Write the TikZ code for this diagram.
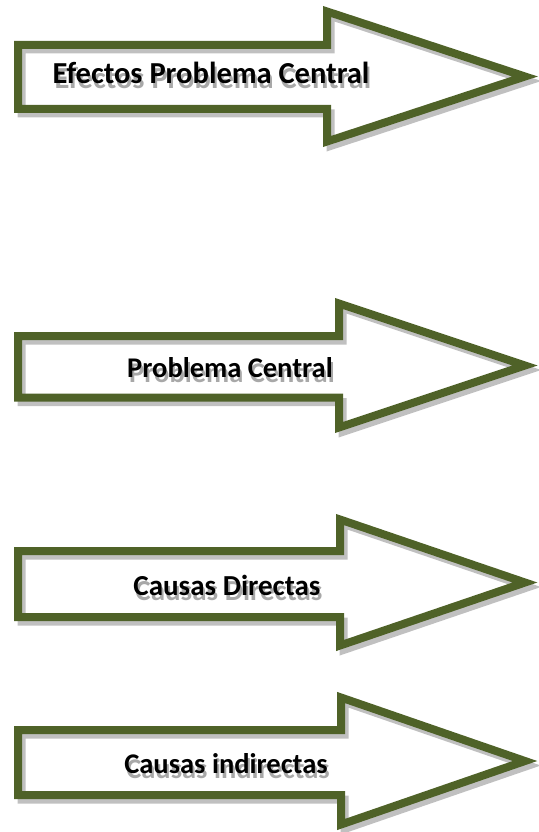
\documentclass[tikz,border=0pt]{standalone}
\usepackage{fontspec}
\setmainfont{Carlito}
\usepackage{xcolor}
\usepackage{tikz}

\definecolor{verdeflecha}{RGB}{79,98,40}
\definecolor{sombraflecha}{RGB}{192,192,192}
\definecolor{sombratexto}{RGB}{168,168,168}

% texto con sombra gris desplazada
\newcommand{\conSombra}[1]{\makebox[0pt][l]{\hspace{2pt}\raisebox{-5pt}{\color{sombratexto}#1}}#1}

\begin{document}
\begin{tikzpicture}[
    x=1pt, y=-1pt,
    flecha/.style={draw=verdeflecha, line width=8pt, line join=miter,
        preaction={draw=sombraflecha, line width=8pt, line join=miter, transform canvas={xshift=3.5pt, yshift=-4.5pt}}},
    etiqueta/.style={anchor=base, inner sep=0pt, font=\fontsize{28.5}{34}\selectfont\bfseries}
]
\useasboundingbox (0,0) rectangle (538,832);

% Efectos
\draw[flecha] (18,45) -- (327,45) -- (327,11.5) -- (525,76.5) -- (327,141.5) -- (327,109) -- (18,109) -- cycle;
\node[etiqueta, font=\fontsize{30.5}{36}\selectfont\bfseries] (efectos) at (211,83.5) {\conSombra{Efectos Problema Central}};

% Problema central
\draw[flecha] (18,336) -- (339,336) -- (339,303.5) -- (525,365.5) -- (339,427.5) -- (339,397.5) -- (18,397.5) -- cycle;
\node[etiqueta] (problema) at (230,377) {\conSombra{Problema Central}};

% Causas directas
\draw[flecha] (18,551) -- (340,551) -- (340,519.5) -- (525,582.5) -- (340,645.5) -- (340,617) -- (18,617) -- cycle;
\node[etiqueta, font=\fontsize{29}{34}\selectfont\bfseries] (directas) at (227,595) {\conSombra{Causas Directas}};

% Causas indirectas
\draw[flecha] (18,730) -- (341,730) -- (341,697.5) -- (525,761) -- (341,824.5) -- (341,795) -- (18,795) -- cycle;
\node[etiqueta] (indirectas) at (226,773) {\conSombra{Causas indirectas}};

\end{tikzpicture}
\end{document}
